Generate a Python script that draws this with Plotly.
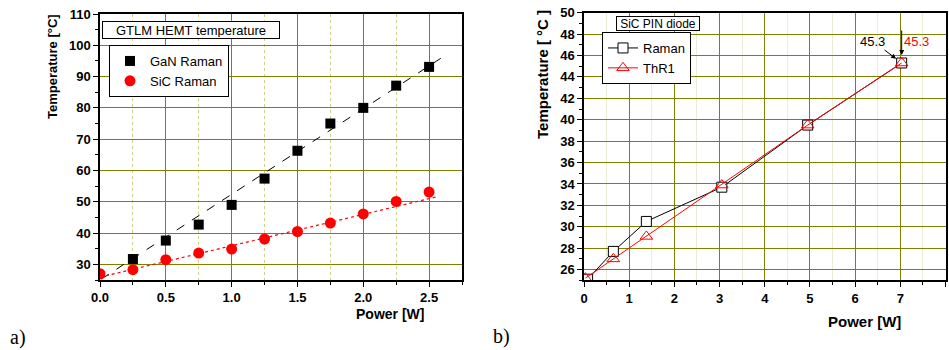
import plotly.graph_objects as go

# ---------------- data: panel a) GTLM HEMT ----------------
power_a = [0.25, 0.5, 0.75, 1.0, 1.25, 1.5, 1.75, 2.0, 2.25, 2.5]
gan_raman = [31.7, 37.6, 42.7, 49.0, 57.4, 66.3, 75.0, 80.0, 87.1, 93.1]
power_sic = [0.0, 0.25, 0.5, 0.75, 1.0, 1.25, 1.5, 1.75, 2.0, 2.25, 2.5]
sic_raman = [27.0, 28.3, 31.5, 33.6, 34.9, 38.1, 40.5, 43.2, 46.1, 50.1, 53.1]
gan_fit_x = [0.01, 2.62]
gan_fit_y = [25.3, 96.7]
sic_fit_x = [0.0, 2.57]
sic_fit_y = [25.9, 51.7]
xticks_a = [0.0, 0.5, 1.0, 1.5, 2.0, 2.5]
xtick_labels_a = ["0.0", "0.5", "1.0", "1.5", "2.0", "2.5"]
yticks_a = [30, 40, 50, 60, 70, 80, 90, 100, 110]

# ---------------- data: panel b) SiC PIN diode ----------------
power_raman = [0.08, 0.65, 1.38, 3.05, 4.95, 7.03]
temp_raman = [25.1, 27.7, 30.5, 33.7, 39.5, 45.3]
power_thr1 = [0.03, 0.65, 1.38, 3.05, 4.95, 7.03]
temp_thr1 = [25.2, 27.0, 29.1, 33.9, 39.5, 45.3]
yticks_b = [26, 28, 30, 32, 34, 36, 38, 40, 42, 44, 46, 48, 50]
xticks_b = [0, 1, 2, 3, 4, 5, 6, 7, 8]

FONT = "Liberation Sans, Arial, sans-serif"
SERIF = "Liberation Serif, Times New Roman, serif"
OLIVE = "#808000"
OLIVE_LIGHT = "#cfcf90"
OLIVE_FAINT = "#ebebd6"
W, H = 949, 350

fig = go.Figure()

# panel a traces
fig.add_trace(go.Scatter(x=gan_fit_x, y=gan_fit_y, mode="lines", xaxis="x", yaxis="y",
                         line=dict(color="black", width=1, dash="dash"), showlegend=False))
fig.add_trace(go.Scatter(x=sic_fit_x, y=sic_fit_y, mode="lines", xaxis="x", yaxis="y",
                         line=dict(color="red", width=1.2, dash="dot"), showlegend=False))
fig.add_trace(go.Scatter(x=power_a, y=gan_raman, mode="markers", name="GaN Raman",
                         xaxis="x", yaxis="y", legend="legend",
                         marker=dict(symbol="square", size=10, color="black")))
fig.add_trace(go.Scatter(x=power_sic, y=sic_raman, mode="markers", name="SiC Raman",
                         xaxis="x", yaxis="y", legend="legend",
                         marker=dict(symbol="circle", size=11, color="red")))

# panel b traces
fig.add_trace(go.Scatter(x=power_raman, y=temp_raman, mode="lines+markers", name="Raman",
                         xaxis="x2", yaxis="y2", legend="legend2",
                         line=dict(color="black", width=1),
                         marker=dict(symbol="square", size=10, color="white",
                                     line=dict(color="black", width=1))))
fig.add_trace(go.Scatter(x=power_thr1, y=temp_thr1, mode="lines+markers", name="ThR1",
                         xaxis="x2", yaxis="y2", legend="legend2",
                         line=dict(color="red", width=1),
                         marker=dict(symbol="triangle-up-open", size=11, color="red",
                                     line=dict(color="red", width=1))))

tickfont = dict(family=FONT, size=13, color="black", weight="bold")

common = dict(showline=True, linecolor="black", linewidth=1.5, mirror=True,
              ticks="outside", ticklen=5, tickwidth=1, tickcolor="black",
              showgrid=True, gridcolor=OLIVE, gridwidth=1, zeroline=False,
              automargin=False, tickfont=tickfont, fixedrange=True)

fig.update_layout(
    width=W, height=H, margin=dict(l=0, r=0, t=0, b=0, pad=0), autosize=False,
    paper_bgcolor="white", plot_bgcolor="white",
    font=dict(family=FONT, color="black"),
    xaxis=dict(domain=[100 / W, 462 / W], range=[0, 2.75], anchor="y",
               tickvals=xticks_a, ticktext=xtick_labels_a,
               minor=dict(dtick=0.25, tick0=0, ticks="outside", ticklen=3, tickcolor="black",
                          showgrid=True, gridcolor=OLIVE_LIGHT, griddash="dot", gridwidth=1),
               **common),
    yaxis=dict(domain=[1 - 280 / H, 1 - 14 / H], range=[25, 110], anchor="x",
               tickvals=yticks_a,
               minor=dict(dtick=5, tick0=25, ticks="outside", ticklen=3, tickcolor="black",
                          showgrid=False),
               **common),
    xaxis2=dict(domain=[584 / W, 945.5 / W], range=[0, 8], anchor="y2",
                tickvals=xticks_b,
                minor=dict(dtick=0.5, tick0=0, ticks="outside", ticklen=3, tickcolor="black",
                           showgrid=True, gridcolor=OLIVE_FAINT, gridwidth=1),
                **common),
    yaxis2=dict(domain=[1 - 280.3 / H, 1 - 12.7 / H], range=[25, 50], anchor="x2",
                tickvals=yticks_b,
                minor=dict(dtick=1, tick0=25, ticks="outside", ticklen=3, tickcolor="black",
                           showgrid=False),
                **common),
    legend=dict(x=109 / W, y=1 - 45 / H, xanchor="left", yanchor="top",
                bordercolor="black", borderwidth=1, bgcolor="white",
                font=dict(family=FONT, size=13, color="black"),
                tracegroupgap=0, itemwidth=30),
    legend2=dict(x=602 / W, y=1 - 32 / H, xanchor="left", yanchor="top",
                 bordercolor="black", borderwidth=1, bgcolor="white",
                 font=dict(family=FONT, size=13, color="black"),
                 tracegroupgap=0, itemwidth=30),
    showlegend=True,
)

annotations = [
    # title boxes
    dict(text="GTLM HEMT temperature", x=190.5 / W, y=1 - 29.5 / H, xref="paper", yref="paper",
         showarrow=False, font=dict(family=FONT, size=13), bordercolor="black", borderwidth=1,
         bgcolor="white", width=174, height=14, xanchor="center", yanchor="middle"),
    dict(text="SiC PIN diode", x=658 / W, y=1 - 23 / H, xref="paper", yref="paper",
         showarrow=False, font=dict(family=FONT, size=12), bordercolor="black", borderwidth=1,
         bgcolor="white", width=80, height=11, xanchor="center", yanchor="middle"),
    # axis titles
    dict(text="Temperature [°C]", x=53 / W, y=1 - 67 / H, xref="paper", yref="paper",
         showarrow=False, textangle=-90, font=dict(family=FONT, size=13, weight="bold"),
         xanchor="center", yanchor="middle"),
    dict(text="Temperature [ °C ]", x=542 / W, y=1 - 75 / H, xref="paper", yref="paper",
         showarrow=False, textangle=-90, font=dict(family=FONT, size=15, weight="bold"),
         xanchor="center", yanchor="middle"),
    dict(text="Power [W]", x=390 / W, y=1 - 314 / H, xref="paper", yref="paper",
         showarrow=False, font=dict(family=FONT, size=14, weight="bold"),
         xanchor="center", yanchor="middle"),
    dict(text="Power [W]", x=864 / W, y=1 - 321 / H, xref="paper", yref="paper",
         showarrow=False, font=dict(family=FONT, size=15, weight="bold"),
         xanchor="center", yanchor="middle"),
    # panel labels
    dict(text="a)", x=18 / W, y=1 - 337 / H, xref="paper", yref="paper",
         showarrow=False, font=dict(family=SERIF, size=20), xanchor="center", yanchor="middle"),
    dict(text="b)", x=501 / W, y=1 - 336 / H, xref="paper", yref="paper",
         showarrow=False, font=dict(family=SERIF, size=20), xanchor="center", yanchor="middle"),
    # value call-outs
    dict(text="45.3", x=power_raman[-1], y=temp_raman[-1], xref="x2", yref="y2",
         showarrow=True, ax=-29, ay=-22, arrowhead=2, arrowsize=1, arrowwidth=1,
         arrowcolor="black", standoff=7, font=dict(family=FONT, size=13, color="black")),
    dict(text="", x=power_thr1[-1], y=temp_thr1[-1], xref="x2", yref="y2",
         showarrow=True, ax=0, ay=-34, arrowhead=2, arrowsize=1, arrowwidth=1,
         arrowcolor="black", standoff=8),
    dict(text="45.3", x=power_thr1[-1], y=temp_thr1[-1], xref="x2", yref="y2",
         showarrow=False, xshift=15, yshift=22, font=dict(family=FONT, size=13, color="red")),
]
fig.update_layout(annotations=annotations)

fig.write_html("out.html", config={"displayModeBar": False},
               post_script="document.body.style.margin='0px';document.body.style.padding='0px';"
                           "document.documentElement.style.overflow='hidden';")
